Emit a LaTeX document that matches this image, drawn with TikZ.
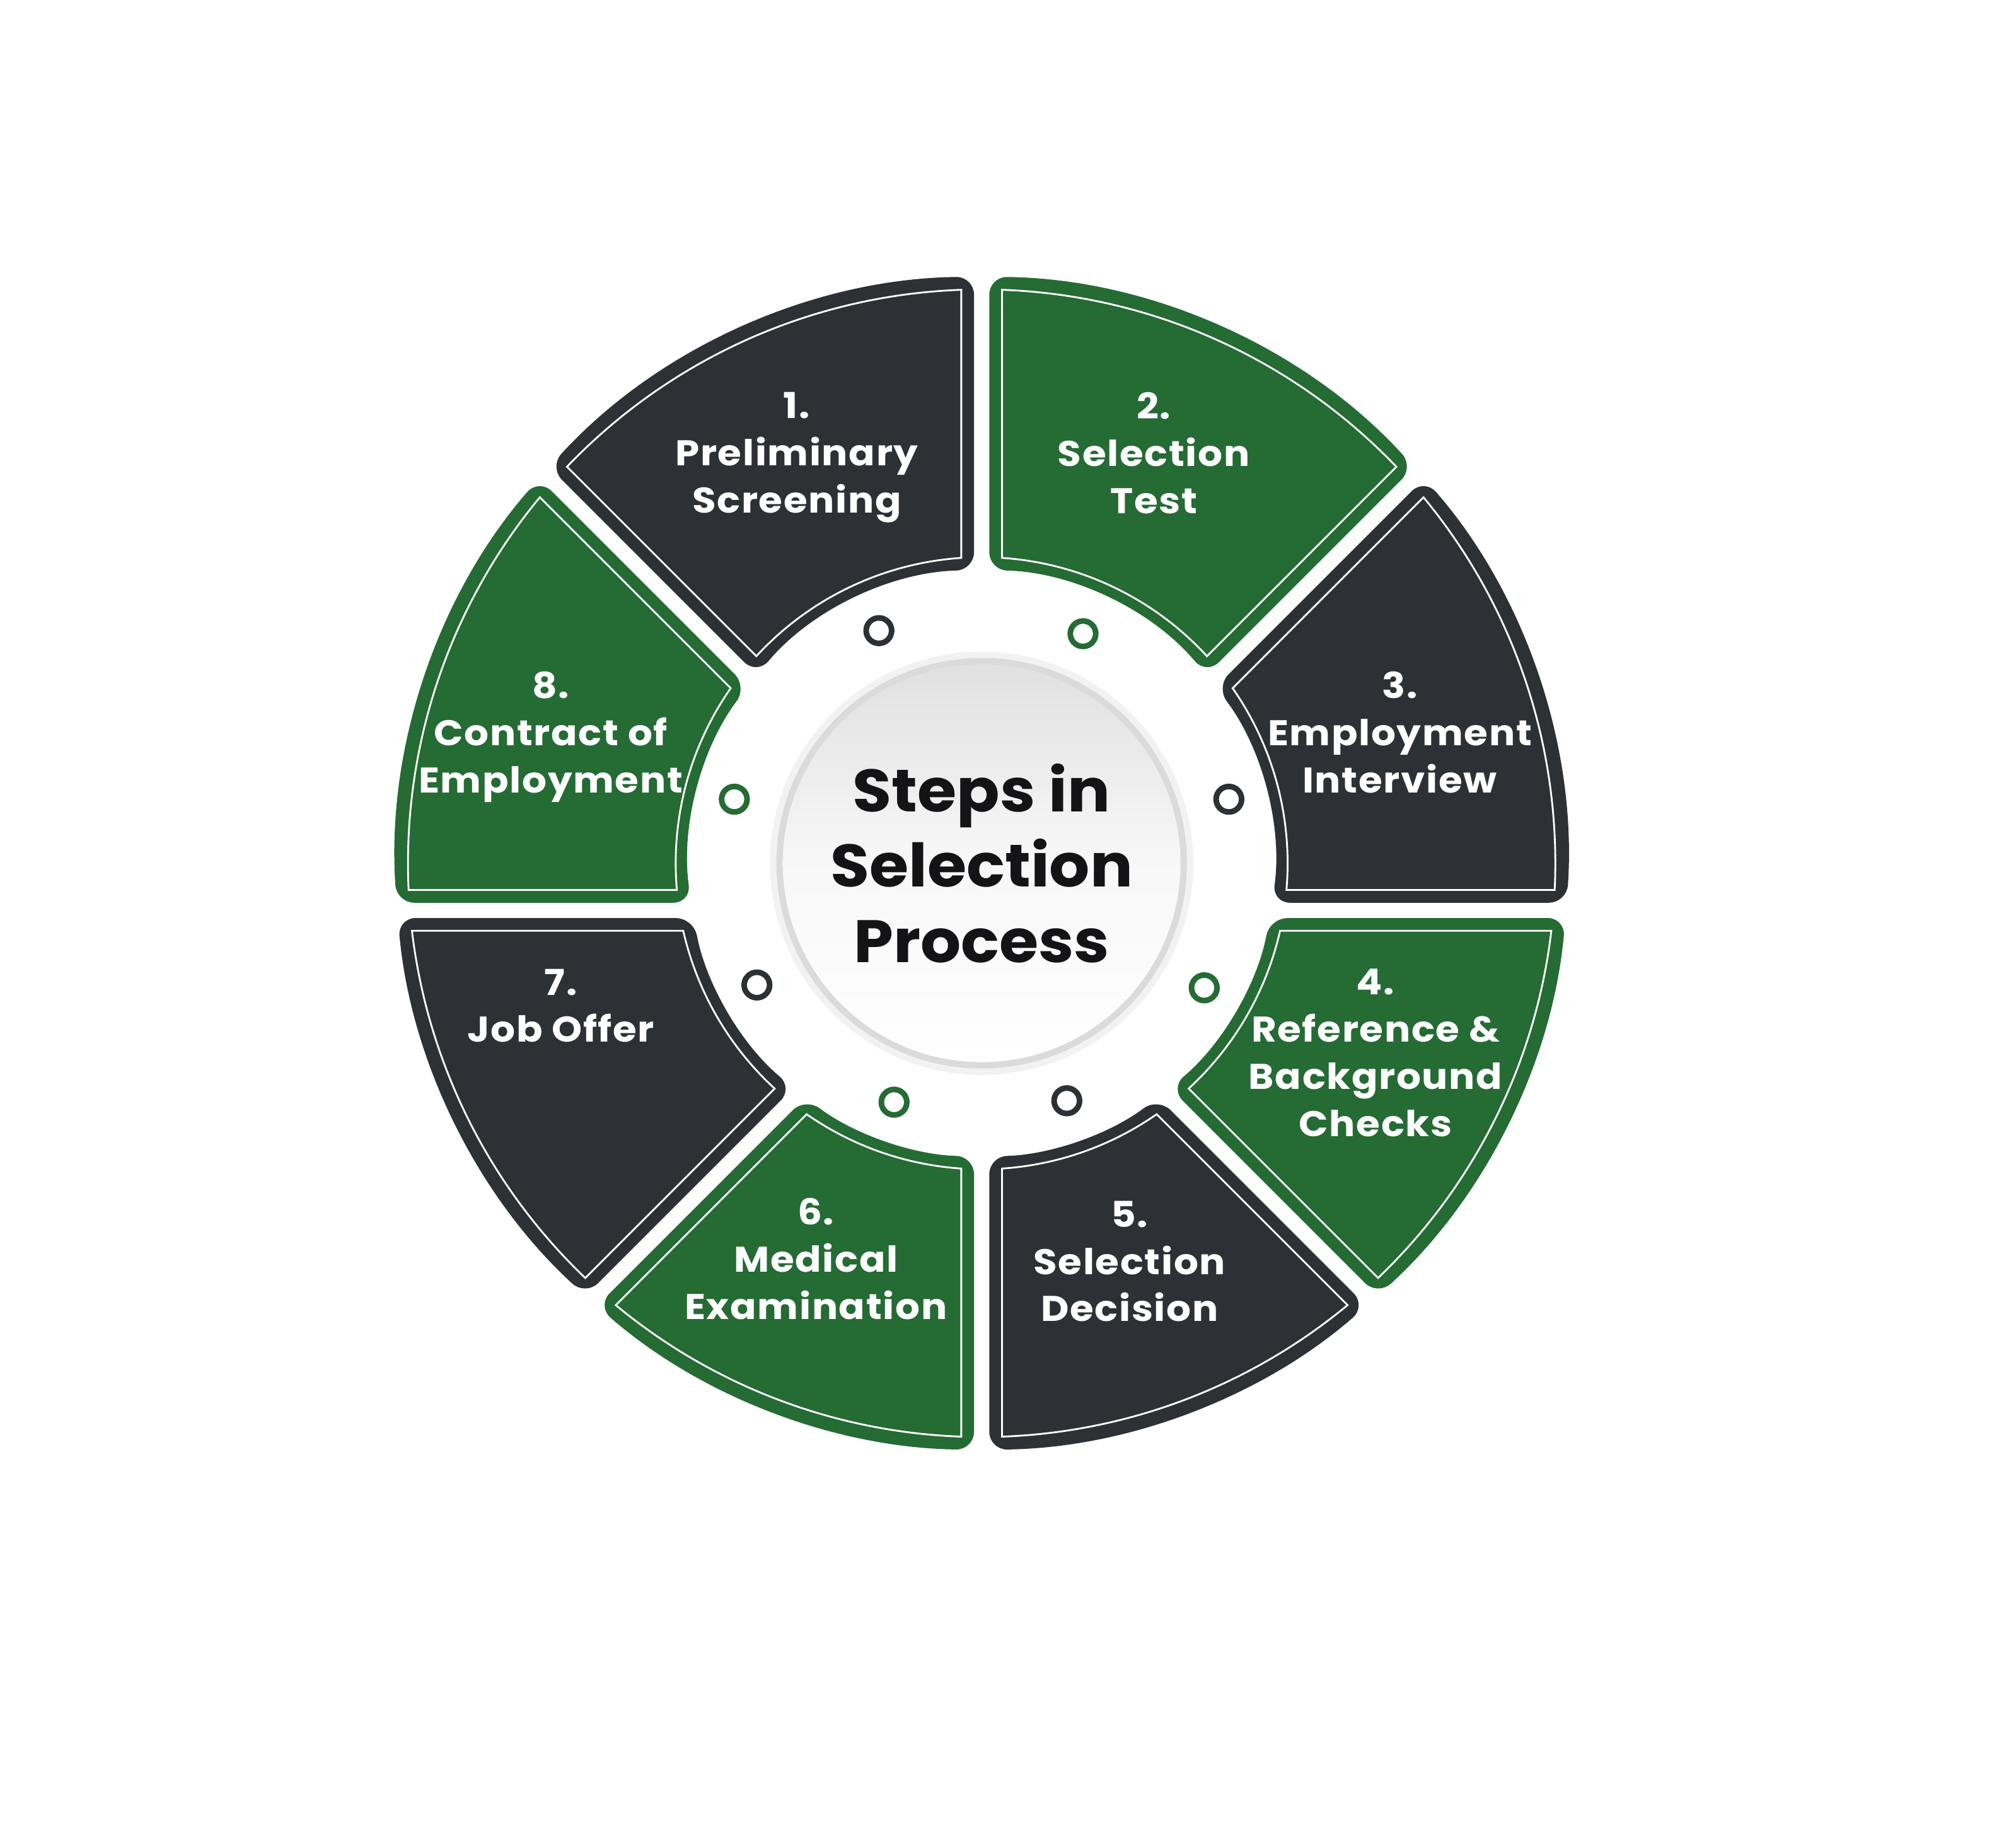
\documentclass[tikz,border=0pt]{standalone}
\usepackage{fontspec}
\setmainfont{Poppins}
\newfontfamily\segfont{Poppins}[FakeStretch=1.08, LetterSpace=3]
\newfontfamily\ttlfont{Poppins}[FakeStretch=1.06]
\definecolor{segdark}{RGB}{45,49,53}
\definecolor{seggreen}{RGB}{37,107,52}
\definecolor{titleink}{RGB}{20,20,22}
\newcommand\ringseg[3]{%
  \pgfmathsetmacro\Oa{#1+asin((-37*cos(#1)+6)/460)}%
  \pgfmathsetmacro\Ob{#2+asin((-37*cos(#2)-6)/460)}%
  \pgfmathsetmacro\Ia{#1+asin((-37*cos(#1)+6)/230)}%
  \pgfmathsetmacro\Ib{#2+asin((-37*cos(#2)-6)/230)}%
  \fill[#3, rounded corners=7pt] (\Oa:460) arc[start angle=\Oa, end angle=\Ob, radius=460]
     -- (\Ib:230) arc[start angle=\Ib, end angle=\Ia, radius=230] -- cycle;
  \pgfmathsetmacro\Oa{#1+asin((-37*cos(#1)+16)/450)}%
  \pgfmathsetmacro\Ob{#2+asin((-37*cos(#2)-16)/450)}%
  \pgfmathsetmacro\Ia{#1+asin((-37*cos(#1)+16)/240)}%
  \pgfmathsetmacro\Ib{#2+asin((-37*cos(#2)-16)/240)}%
  \draw[white, line width=0.7pt, line join=miter] (\Oa:450) arc[start angle=\Oa, end angle=\Ob, radius=450]
     -- (\Ib:240) arc[start angle=\Ib, end angle=\Ia, radius=240] -- cycle;
}
\tikzset{
  segtext/.style={text=white, align=center, inner sep=0pt, anchor=north,
     font=\segfont\bfseries\fontsize{14}{18.5}\selectfont},
  dotring/.style={circle, draw=#1, line width=2.2pt, minimum size=10pt, inner sep=0pt},
  titletext/.style={text=titleink, align=center, inner sep=0pt,
     font=\ttlfont\bfseries\fontsize{23.5}{29.5}\selectfont}
}
\begin{document}
\begin{tikzpicture}[x=0.5pt,y=0.5pt]
\useasboundingbox (-770,-772) rectangle (798,677);
\fill[white] (-770,-772) rectangle (798,677);
% ring segments
\ringseg{0}{45}{segdark}
\ringseg{45}{90}{seggreen}
\ringseg{90}{135}{segdark}
\ringseg{135}{180}{seggreen}
\ringseg{180}{225}{segdark}
\ringseg{225}{270}{seggreen}
\ringseg{270}{315}{segdark}
\ringseg{315}{360}{seggreen}
% labels
\node[segtext] (t1) at (-145,369.5) {1.\\Preliminary\\Screening};
\node[segtext] (t2) at (135,369.5) {2.\\Selection\\Test};
\node[segtext] (t3) at (328,150.5) {3.\\Employment\\Interview};
\node[segtext] (t4) at (309,-82.5) {4.\\Reference \&\\Background\\Checks};
\node[segtext] (t5) at (116,-264.5) {5.\\Selection\\Decision};
\node[segtext] (t6) at (-130,-262.5) {6.\\Medical\\Examination};
\node[segtext] (t7) at (-330,-82.5) {7.\\Job Offer};
\node[segtext] (t8) at (-338,150.5) {8.\\Contract of\\Employment};
% small rings
\node[dotring=segdark] (c1) at (-80.6,182.4) {};
\node[dotring=seggreen] (c2) at (79.5,180) {};
\node[dotring=segdark] (c3) at (193.9,50.2) {};
\node[dotring=seggreen] (c4) at (174.6,-97.7) {};
\node[dotring=segdark] (c5) at (66.8,-186.3) {};
\node[dotring=seggreen] (c6) at (-68.7,-187.4) {};
\node[dotring=segdark] (c7) at (-176.3,-95.5) {};
\node[dotring=seggreen] (c8) at (-194,50.2) {};
% centre disc
\fill[gray!10] (0,0) circle[radius=166];
\fill[gray!28] (0,0) circle[radius=161];
\shade[top color=gray!24, bottom color=white, middle color=gray!6] (0,0) circle[radius=156];
\node[titletext] (title) at (0,0) {Steps in\\Selection\\Process};
\end{tikzpicture}
\end{document}
